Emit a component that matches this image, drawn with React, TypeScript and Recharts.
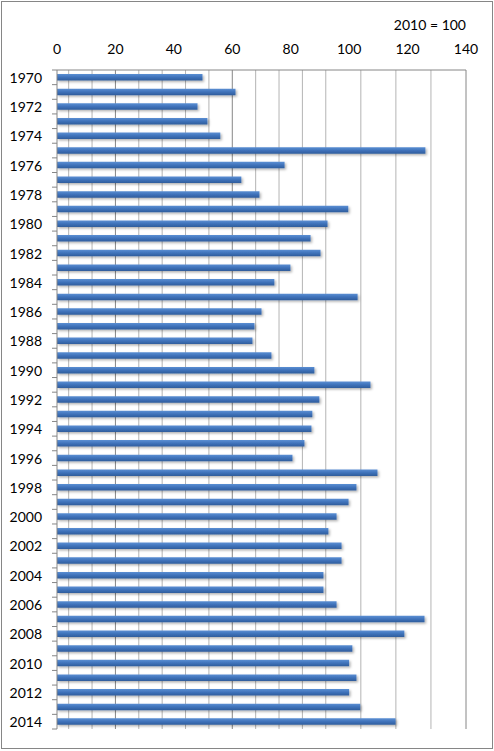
import { BarChart, Bar, XAxis, YAxis, CartesianGrid } from 'recharts';

const years = [
  '1970', '1971', '1972', '1973', '1974', '1975', '1976', '1977', '1978', '1979',
  '1980', '1981', '1982', '1983', '1984', '1985', '1986', '1987', '1988', '1989',
  '1990', '1991', '1992', '1993', '1994', '1995', '1996', '1997', '1998', '1999',
  '2000', '2001', '2002', '2003', '2004', '2005', '2006', '2007', '2008', '2009',
  '2010', '2011', '2012', '2013', '2014',
];

const index2010 = [
  49.8, 61.1, 48.1, 51.5, 55.9, 126.1, 77.9, 63.1, 69.3, 99.7,
  92.6, 86.8, 90.2, 79.9, 74.4, 102.9, 70.0, 67.6, 66.9, 73.4,
  88.1, 107.3, 89.8, 87.4, 87.1, 84.7, 80.6, 109.7, 102.5, 99.8,
  95.7, 92.9, 97.4, 97.4, 91.2, 91.2, 95.7, 125.8, 118.9, 101.1,
  100.0, 102.5, 100.0, 103.8, 115.9,
];

const xTicks = [0, 20, 40, 60, 80, 100, 120, 140];
const minorStep = 4;

const data = years.map((year, i) => ({ year, value: index2010[i] }));

const W = 494;
const H = 751;
const margin = { top: 40, right: 28, left: 0, bottom: 22 };
const xAxisHeight = 30;
const yAxisWidth = 57;
const plotHeight = H - margin.top - margin.bottom - xAxisHeight;
const plotWidth = W - margin.left - margin.right - yAxisWidth;
const band = plotHeight / years.length;
const xMax = xTicks[xTicks.length - 1];

const font = 'Lato, "Open Sans", sans-serif';
const fontSize = 14;

// vertical grid values: minor every 4, major every 20
const gridValues: number[] = [];
for (let v = minorStep; v <= xMax; v += minorStep) gridValues.push(v);
for (const v of xTicks.slice(1)) if (!gridValues.includes(v)) gridValues.push(v);
gridValues.sort((a, b) => a - b);

function GridLine(props: any) {
  const { x1, x2, y1, y2 } = props;
  const v = Math.round(((x1 - margin.left - yAxisWidth) / plotWidth) * xMax);
  const major = xTicks.includes(v);
  return <line x1={x1} x2={x2} y1={y1} y2={y2} stroke={major ? '#868686' : '#b4b4b4'} strokeWidth={1} fill="none" />;
}

function YearTick(props: any) {
  const { x, y, index, payload } = props;
  const i = index ?? payload?.index ?? 0;
  const lx1 = x + 10;
  const lx2 = x + 15;
  return (
    <g>
      <line x1={lx1} x2={lx2} y1={y - band / 2} y2={y - band / 2} stroke="#868686" />
      {i === years.length - 1 && (
        <line x1={lx1} x2={lx2} y1={y + band / 2} y2={y + band / 2} stroke="#868686" />
      )}
      {i % 2 === 0 && (
        <text x={x} y={y} textAnchor="end" dominantBaseline="central" fontSize={fontSize} fontFamily={font} fill="#000">
          {payload.value}
        </text>
      )}
    </g>
  );
}

export default function App() {
  return (
    <div
      style={{
        position: 'absolute',
        left: 0,
        top: 0,
        width: W,
        height: H,
        background: '#fff',
      }}
    >
      <div
        style={{
          position: 'absolute',
          left: 1,
          top: 1,
          width: W - 4,
          height: H - 5,
          border: '1px solid #868686',
          pointerEvents: 'none',
        }}
      />
      <div
        style={{
          position: 'absolute',
          right: W - 466,
          top: 16,
          fontFamily: font,
          fontSize,
          color: '#000',
        }}
      >
        2010 = 100
      </div>
      <BarChart width={W} height={H} data={data} layout="vertical" margin={margin} barSize={6.5}>
        <defs>
          <linearGradient id="barFill" x1="0" y1="0" x2="0" y2="1">
            <stop offset="0%" stopColor="#5b8fd3" />
            <stop offset="50%" stopColor="#3f72ba" />
            <stop offset="100%" stopColor="#2f5d9c" />
          </linearGradient>
          <filter id="barShadow" x="-5%" y="-50%" width="110%" height="250%">
            <feDropShadow dx="1.5" dy="1.5" stdDeviation="1" floodColor="#000" floodOpacity="0.3" />
          </filter>
        </defs>
        <CartesianGrid horizontal={false} verticalValues={gridValues} stroke="#b4b4b4" vertical={<GridLine />} />
        <XAxis
          type="number"
          orientation="top"
          domain={[0, xMax]}
          ticks={xTicks}
          height={xAxisHeight}
          tickLine={false}
          tickSize={0}
          tickMargin={16}
          axisLine={{ stroke: '#868686' }}
          tick={{ fontSize, fontFamily: font, fill: '#000' }}
          allowDataOverflow
        />
        <YAxis
          type="category"
          dataKey="year"
          width={yAxisWidth}
          interval={0}
          tickLine={false}
          tickSize={0}
          tickMargin={15}
          axisLine={{ stroke: '#868686' }}
          tick={<YearTick />}
        />
        <Bar
          dataKey="value"
          fill="url(#barFill)"
          style={{ filter: 'url(#barShadow)' }}
          isAnimationActive={false}
        />
      </BarChart>
    </div>
  );
}
